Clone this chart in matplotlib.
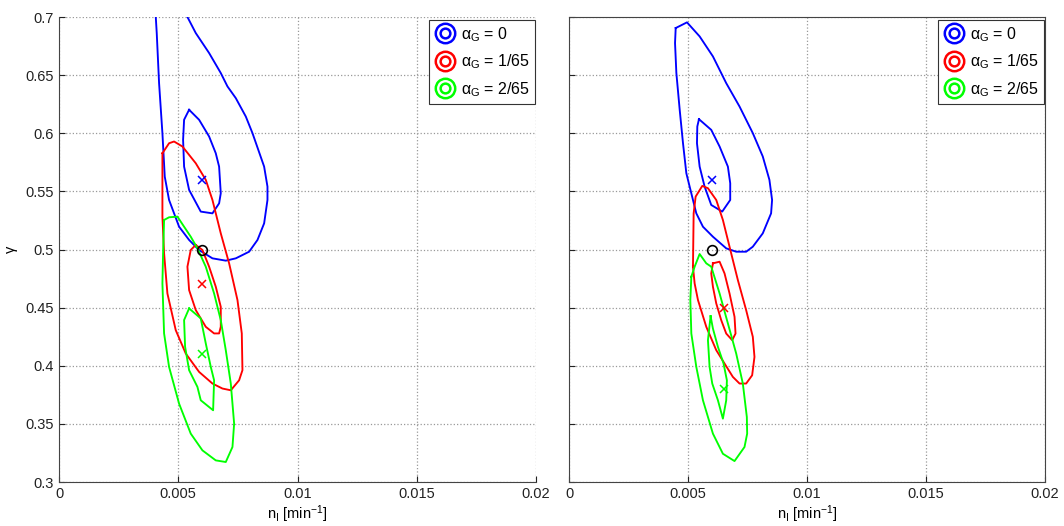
import numpy as np
import matplotlib.pyplot as plt
from matplotlib.lines import Line2D
from matplotlib.legend_handler import HandlerTuple

plt.rcParams['font.family'] = ['Liberation Sans', 'DejaVu Sans']
plt.rcParams['mathtext.fontset'] = 'custom'
plt.rcParams['mathtext.rm'] = 'Liberation Sans'
plt.rcParams['mathtext.it'] = 'Liberation Sans'

# ---- data: closed credible-region contours (n_I, gamma) ----
# left panel
L_blue_out_x = [0.00400, 0.004056, 0.004098, 0.004196, 0.004336, 0.004434, 0.004615, 0.005035, 0.005455, 0.005874,
                0.006434, 0.006993, 0.007413, 0.007972, 0.008322, 0.008601, 0.008741, 0.008741, 0.008601,
                0.008112, 0.007832, 0.007413, 0.007063, 0.006783, 0.006294, 0.005734, 0.005385, 0.00520]
L_blue_out_y = [0.72, 0.7006, 0.6862, 0.6431, 0.6001, 0.5627, 0.5426, 0.5196, 0.5082, 0.4995,
                0.4924, 0.4904, 0.4924, 0.4981, 0.5082, 0.5225, 0.5426, 0.5541, 0.5713,
                0.6001, 0.6144, 0.6302, 0.6403, 0.6518, 0.6690, 0.6862, 0.7000, 0.72]
L_blue_in_x = [0.005455, 0.005874, 0.006294, 0.006573, 0.006713, 0.006783, 0.006713, 0.006434, 0.005944,
               0.005455, 0.005245, 0.005203, 0.005245]
L_blue_in_y = [0.6202, 0.6116, 0.5972, 0.5828, 0.5713, 0.5484, 0.5397, 0.5311, 0.5326,
               0.5513, 0.5713, 0.5943, 0.6116]
L_red_out_x = [0.004336, 0.004615, 0.004825, 0.005175, 0.005734, 0.006154, 0.006434, 0.006783, 0.007133,
               0.007483, 0.007664, 0.007692, 0.007552, 0.007203, 0.006853, 0.006434, 0.005874, 0.005315,
               0.004895, 0.004545, 0.004406, 0.004336, 0.004336]
L_red_out_y = [0.5828, 0.5914, 0.5929, 0.5886, 0.5742, 0.5599, 0.5426, 0.5139, 0.4881,
               0.4565, 0.4278, 0.3962, 0.3875, 0.3789, 0.3804, 0.3847, 0.3947, 0.4105,
               0.4306, 0.4622, 0.4967, 0.5283, 0.5713]
L_red_in_x = [0.005734, 0.006014, 0.006294, 0.006573, 0.006783, 0.006783, 0.006713, 0.006503, 0.006154,
              0.005734, 0.005455, 0.005385, 0.005524]
L_red_in_y = [0.5039, 0.4996, 0.4852, 0.4680, 0.4507, 0.4335, 0.4278, 0.4278, 0.4335,
              0.4479, 0.4651, 0.4852, 0.4996]
L_green_out_x = [0.004406, 0.004615, 0.004965, 0.005245, 0.005524, 0.005804, 0.006154, 0.006503, 0.006783,
                 0.006993, 0.007203, 0.007343, 0.007273, 0.006993, 0.006573, 0.006014, 0.005524, 0.005035,
                 0.004615, 0.004406, 0.004336, 0.004364]
L_green_out_y = [0.5254, 0.5277, 0.5283, 0.5196, 0.5110, 0.5010, 0.4852, 0.4622, 0.4392,
                 0.4134, 0.3847, 0.3502, 0.3301, 0.3172, 0.3186, 0.3272, 0.3416, 0.3674,
                 0.3990, 0.4278, 0.4708, 0.4967]
L_green_in_x = [0.005455, 0.005944, 0.006154, 0.006364, 0.006503, 0.006462, 0.005944, 0.005804, 0.005455,
                0.005287, 0.005245]
L_green_in_y = [0.4493, 0.4407, 0.4192, 0.3990, 0.3875, 0.3617, 0.3703, 0.3818, 0.3962,
                0.4163, 0.4393]
L_est_x = [0.006, 0.006, 0.006]
L_est_y = [0.56, 0.47, 0.41]

# right panel
R_blue_out_x = [0.004483, 0.004958, 0.005489, 0.006047, 0.006606, 0.007165, 0.007723, 0.008142, 0.008421,
                0.008533, 0.008491, 0.008142, 0.007723, 0.007444, 0.007025, 0.006606, 0.006047, 0.005628,
                0.005349, 0.005209, 0.004930, 0.004790, 0.004651, 0.004511, 0.004455]
R_blue_out_y = [0.6905, 0.6954, 0.6833, 0.6661, 0.6431, 0.6230, 0.6001, 0.5800, 0.5599,
                0.5426, 0.5311, 0.5139, 0.5024, 0.4981, 0.4981, 0.5010, 0.5110, 0.5196,
                0.5311, 0.5426, 0.5656, 0.5914, 0.6202, 0.6518, 0.6776]
R_blue_in_x = [0.005461, 0.005977, 0.006327, 0.006676, 0.006774, 0.006774, 0.006438, 0.005977, 0.005698,
               0.005489, 0.005377, 0.005391]
R_blue_in_y = [0.6121, 0.6029, 0.5886, 0.5713, 0.5570, 0.5426, 0.5326, 0.5383, 0.5541,
               0.5713, 0.5914, 0.6058]
R_red_out_x = [0.005209, 0.005237, 0.005321, 0.005600, 0.005838, 0.006187, 0.006466, 0.006745, 0.007095,
               0.007444, 0.007723, 0.007793, 0.007695, 0.007444, 0.007165, 0.006885, 0.006536, 0.006187,
               0.005768, 0.005419, 0.005279]
R_red_out_y = [0.4852, 0.5311, 0.5455, 0.5547, 0.5527, 0.5426, 0.5254, 0.5024, 0.4737,
               0.4478, 0.4249, 0.4076, 0.3918, 0.3847, 0.3847, 0.3904, 0.4019, 0.4134,
               0.4335, 0.4565, 0.4708]
R_red_in_x = [0.006047, 0.006327, 0.006536, 0.006745, 0.006955, 0.006997, 0.006857, 0.006606, 0.006396,
              0.006187, 0.006047, 0.005977]
R_red_in_y = [0.4881, 0.4895, 0.4794, 0.4622, 0.4421, 0.4277, 0.4220, 0.4277, 0.4392,
              0.4536, 0.4680, 0.4794]
R_green_out_x = [0.005140, 0.005279, 0.005489, 0.005768, 0.005977, 0.006327, 0.006676, 0.007025, 0.007304,
                 0.007472, 0.007486, 0.007374, 0.006955, 0.006466, 0.006047, 0.005628, 0.005349, 0.005140,
                 0.005098]
R_green_out_y = [0.4766, 0.4852, 0.4961, 0.4881, 0.4852, 0.4622, 0.4364, 0.4105, 0.3847,
                 0.3559, 0.3416, 0.3301, 0.3180, 0.3243, 0.3416, 0.3703, 0.3990, 0.4277,
                 0.4565]
R_green_in_x = [0.005949, 0.006047, 0.006257, 0.006494, 0.006634, 0.006606, 0.006466, 0.006257, 0.006019,
                0.005907, 0.005838]
R_green_in_y = [0.4427, 0.4320, 0.4163, 0.4019, 0.3875, 0.3703, 0.3545, 0.3703, 0.3847,
                0.3990, 0.4220]
R_est_x = [0.006, 0.0065, 0.0065]
R_est_y = [0.56, 0.45, 0.38]

true_x, true_y = 0.006, 0.5
colors = ['#0000ff', '#ff0000', '#00ff00']
labels = [r'$\alpha_G$ = 0', r'$\alpha_G$ = 1/65', r'$\alpha_G$ = 2/65']

panels = [
    ([(L_blue_out_x, L_blue_out_y, False), (L_blue_in_x, L_blue_in_y, True)],
     [(L_red_out_x, L_red_out_y, True), (L_red_in_x, L_red_in_y, True)],
     [(L_green_out_x, L_green_out_y, True), (L_green_in_x, L_green_in_y, True)],
     L_est_x, L_est_y),
    ([(R_blue_out_x, R_blue_out_y, True), (R_blue_in_x, R_blue_in_y, True)],
     [(R_red_out_x, R_red_out_y, True), (R_red_in_x, R_red_in_y, True)],
     [(R_green_out_x, R_green_out_y, True), (R_green_in_x, R_green_in_y, True)],
     R_est_x, R_est_y),
]

fig = plt.figure(figsize=(10.64, 5.26), dpi=100)
ax1 = fig.add_axes([59 / 1064, 44 / 526, 477 / 1064, 465 / 526])
ax2 = fig.add_axes([569 / 1064, 44 / 526, 476 / 1064, 465 / 526])

for k, (ax, pan) in enumerate(zip([ax1, ax2], panels)):
    groups = pan[:3]
    ex, ey = pan[3], pan[4]
    for col, grp in zip(colors, groups):
        for xs, ys, closed in grp:
            xs = list(xs)
            ys = list(ys)
            if closed:
                xs.append(xs[0])
                ys.append(ys[0])
            ax.plot(xs, ys, color=col, lw=1.35, clip_on=True)
    for col, x, y in zip(colors, ex, ey):
        ax.plot(x, y, 'x', color=col, ms=6, mew=1.1)
    ax.plot(true_x, true_y, 'o', mfc='none', mec='k', ms=7, mew=1.2)

    ax.set_xlim(0, 0.02)
    ax.set_ylim(0.3, 0.7)
    ax.set_xticks([0, 0.005, 0.01, 0.015, 0.02])
    ax.set_xticklabels(['0', '0.005', '0.01', '0.015', '0.02'])
    ax.set_yticks(np.arange(0.3, 0.701, 0.05))
    ax.grid(True, linestyle=':', color='#999999', lw=0.9)
    for s in ax.spines.values():
        s.set_color('#444444')
    ax.tick_params(direction='in', length=4, labelsize=10.5, colors='#222222')
    ax.set_xlabel(r'n$_\mathrm{I}$ [min$^{-1}$]', fontsize=10.5, labelpad=2)

    handles = []
    for col in colors:
        big = Line2D([], [], ls='none', marker='o', ms=14, mfc='none', mec=col, mew=1.8)
        small = Line2D([], [], ls='none', marker='o', ms=7, mfc='none', mec=col, mew=1.8)
        handles.append((big, small))
    leg = ax.legend(handles, labels, handler_map={tuple: HandlerTuple(ndivide=1)},
                    loc='upper right', bbox_to_anchor=(0.9985, 0.993), fontsize=11.5,
                    fancybox=False, framealpha=1, edgecolor='#333333',
                    handlelength=1.5, handletextpad=0.25, borderpad=0.3,
                    labelspacing=0.55, borderaxespad=0.0)
    leg.get_frame().set_linewidth(0.8)

# left panel: open box (top/right only dotted grid), right panel: full box
ax1.spines['top'].set_visible(False)
ax1.spines['right'].set_visible(False)
ax1.set_yticklabels(['0.3', '0.35', '0.4', '0.45', '0.5', '0.55', '0.6', '0.65', '0.7'])
ax1.set_ylabel(r'$\gamma$', fontsize=10.5)
ax2.set_yticklabels([])

plt.savefig('out.png', dpi=100)
